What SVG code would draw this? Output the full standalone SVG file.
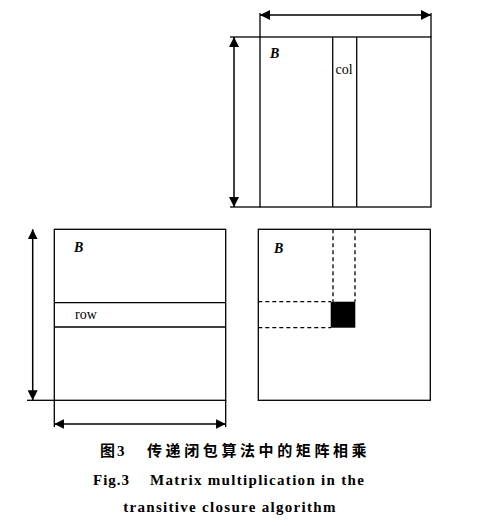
<svg xmlns="http://www.w3.org/2000/svg" width="490" height="526" viewBox="0 0 490 526">
<defs>
<marker id="ah" viewBox="0 0 10 10" refX="10" refY="5" markerWidth="10" markerHeight="10" markerUnits="userSpaceOnUse" orient="auto-start-reverse">
<path d="M0,0 L10,5 L0,10 Z" fill="#000"/>
</marker>
</defs>
<style>
.ln{stroke:#000;stroke-width:1.3;fill:none}
.dl{stroke:#000;stroke-width:1.3;fill:none;stroke-dasharray:4 3}
.ar{stroke:#000;stroke-width:1.5;fill:none;marker-start:url(#ah);marker-end:url(#ah)}
.bl{font-family:"Liberation Serif",serif;font-weight:bold;font-style:italic;font-size:14px}
.lb{font-family:"Liberation Serif",serif;font-size:14px}
.cap{font-family:"Liberation Serif","Noto Sans CJK SC",serif;font-weight:bold;font-size:15px}
</style>
<rect width="490" height="526" fill="#fff"/>
<g id="matrix-top">
<rect class="ln" x="260" y="37" width="171" height="170"/>
<line class="ln" x1="332.7" y1="37" x2="332.7" y2="207"/>
<line class="ln" x1="356.7" y1="37" x2="356.7" y2="207"/>
<text class="bl" x="270" y="58">B</text>
<text class="lb" x="335.5" y="74">col</text>
</g>
<g id="matrix-left">
<rect class="ln" x="54.3" y="229.3" width="171.4" height="171"/>
<line class="ln" x1="54.3" y1="302.7" x2="225.7" y2="302.7"/>
<line class="ln" x1="54.3" y1="327" x2="225.7" y2="327"/>
<text class="bl" x="74" y="252">B</text>
<text class="lb" x="75" y="319">row</text>
</g>
<g id="matrix-right">
<rect class="ln" x="258.3" y="229.3" width="172" height="171"/>
<line class="dl" x1="333" y1="229.3" x2="333" y2="301.7"/>
<line class="dl" x1="355" y1="229.3" x2="355" y2="301.7"/>
<line class="dl" x1="258.3" y1="301.7" x2="331" y2="301.7"/>
<line class="dl" x1="258.3" y1="327.7" x2="331" y2="327.7"/>
<rect x="330.7" y="301.7" width="24.6" height="26" fill="#000"/>
<text class="bl" x="274" y="252.7">B</text>
</g>
<g id="connectors">
<line class="ln" x1="260" y1="13" x2="260" y2="37"/>
<line class="ln" x1="431" y1="13" x2="431" y2="37"/>
<line class="ar" x1="260" y1="15" x2="431" y2="15"/>
<line class="ln" x1="230" y1="37" x2="260" y2="37"/>
<line class="ln" x1="230" y1="207" x2="260" y2="207"/>
<line class="ar" x1="234" y1="37" x2="234" y2="207"/>
<line class="ln" x1="27" y1="400.3" x2="54.3" y2="400.3"/>
<line class="ar" x1="32.7" y1="229.3" x2="32.7" y2="400.3"/>
<line class="ln" x1="54.3" y1="400.3" x2="54.3" y2="427"/>
<line class="ln" x1="225.7" y1="400.3" x2="225.7" y2="427"/>
<line class="ar" x1="54.3" y1="424" x2="225.7" y2="424"/>
</g>
<text class="cap" x="100" y="456" font-size="14">图<tspan dx="2">3</tspan></text>
<text class="cap" x="147" y="456" font-size="14" letter-spacing="3.6">传递闭包算法中的矩阵相乘</text>
<text class="cap" x="93" y="485" letter-spacing="1">Fig.3</text>
<text class="cap" x="150" y="485" letter-spacing="1.3">Matrix multiplication in the</text>
<text class="cap" x="230" y="512" letter-spacing="1.3" text-anchor="middle">transitive closure algorithm</text>
</svg>
